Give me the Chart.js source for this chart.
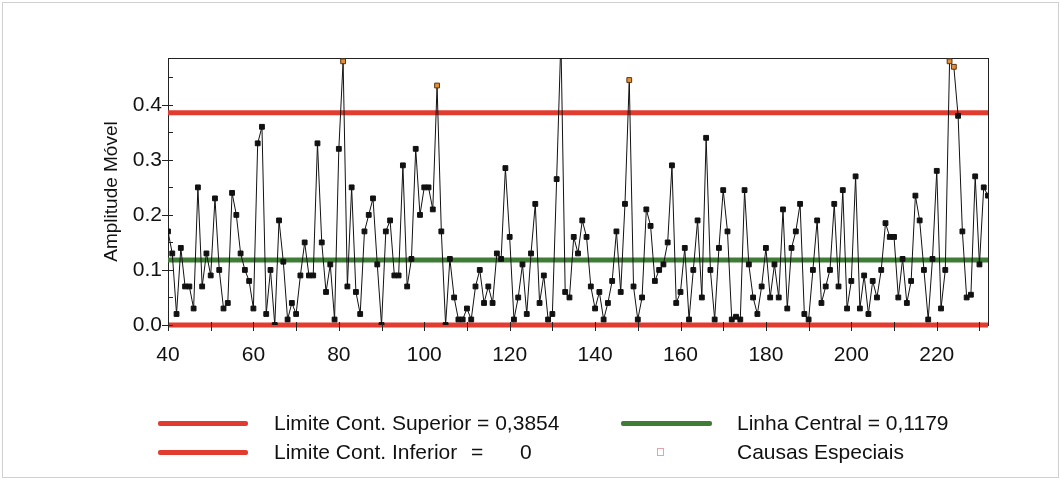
<!DOCTYPE html>
<html>
<head>
<meta charset="utf-8">
<script src="https://cdn.jsdelivr.net/npm/chart.js@4.4.1/dist/chart.umd.min.js"></script>
<style>
html,body{margin:0;padding:0;background:#fff;}
#wrap{position:relative;width:1062px;height:482px;overflow:hidden;font-family:"Liberation Sans",Arial,sans-serif;color:#111;}
#frame{position:absolute;left:2px;top:2px;width:1055px;height:474px;border:1px solid #d0d0d0;}
canvas{position:absolute;left:0;top:0;}
.lg{position:absolute;font-size:21px;line-height:24px;white-space:pre;}
.bar{position:absolute;height:5px;border-radius:2px;}
</style>
</head>
<body>
<div id="wrap">
  <div id="frame"></div>
  <canvas id="c" width="1062" height="482"></canvas>
  <div class="bar" style="left:158px;top:421px;width:90px;background:#e23b2f"></div>
  <div class="lg" style="left:274px;top:411px">Limite Cont. Superior = 0,3854</div>
  <div class="bar" style="left:621px;top:421px;width:91px;background:#3f7d37"></div>
  <div class="lg" style="left:737px;top:411px">Linha Central = 0,1179</div>
  <div class="bar" style="left:158px;top:450px;width:90px;background:#e23b2f"></div>
  <div class="lg" style="left:274px;top:440px">Limite Cont. Inferior</div>
  <div class="lg" style="left:471px;top:440px">=</div>
  <div class="lg" style="left:520px;top:440px">0</div>
  <div style="position:absolute;left:657px;top:448px;width:5px;height:6px;border:1px solid #eaa0a8;"></div>
  <div class="lg" style="left:737px;top:440px">Causas Especiais</div>
</div>
<script>
// ---- data ----
const firstSample = 40;
const movingRange = [
  0.17,0.13,0.02,0.14,0.07,0.07,0.03,0.25,0.07,0.13,
  0.09,0.23,0.10,0.03,0.04,0.24,0.20,0.13,0.10,0.08,
  0.03,0.33,0.36,0.02,0.10,0.00,0.19,0.115,0.01,0.04,
  0.02,0.09,0.15,0.09,0.09,0.33,0.15,0.06,0.11,0.01,
  0.32,0.479,0.07,0.25,0.06,0.02,0.17,0.20,0.23,0.11,
  0.00,0.17,0.19,0.09,0.09,0.29,0.07,0.12,0.32,0.20,
  0.25,0.25,0.21,0.435,0.17,0.00,0.12,0.05,0.01,0.01,
  0.03,0.01,0.07,0.10,0.04,0.07,0.04,0.13,0.12,0.285,
  0.16,0.01,0.05,0.11,0.02,0.13,0.22,0.04,0.09,0.01,
  0.02,0.265,0.52,0.06,0.05,0.16,0.13,0.19,0.16,0.07,
  0.03,0.06,0.01,0.04,0.08,0.17,0.06,0.22,0.445,0.07,
  0.01,0.05,0.21,0.18,0.08,0.10,0.11,0.15,0.29,0.04,
  0.06,0.14,0.01,0.10,0.19,0.05,0.34,0.10,0.01,0.14,
  0.245,0.17,0.01,0.015,0.01,0.245,0.11,0.05,0.02,0.07,
  0.14,0.05,0.11,0.05,0.21,0.03,0.14,0.17,0.22,0.02,
  0.01,0.10,0.19,0.04,0.07,0.10,0.22,0.07,0.245,0.03,
  0.08,0.27,0.03,0.09,0.02,0.08,0.05,0.10,0.185,0.16,
  0.16,0.05,0.12,0.04,0.08,0.235,0.19,0.10,0.01,0.12,
  0.28,0.03,0.10,0.479,0.469,0.38,0.17,0.05,0.055,0.27,
  0.11,0.25,0.235
];
const specialSamples = [81, 103, 148, 223, 224];
const ucl = 0.3854;
const centralLine = 0.1179;
const lcl = 0;
const xRange = [40, 232];
const yRange = [0, 0.485];
const xLabelStep = 20;

// ---- build ----
const points = movingRange.map((v, i) => ({x: firstSample + i, y: v}));
const isSpecial = points.map(p => specialSamples.includes(p.x));
const hline = v => [{x: xRange[0], y: v}, {x: xRange[1], y: v}];
const FONT = '"Liberation Sans", Arial, sans-serif';

const frameAndTicks = {
  id: 'frameAndTicks',
  beforeDatasetsDraw(chart) {
    const {ctx, chartArea: a} = chart;
    ctx.save();
    ctx.strokeStyle = '#222';
    ctx.lineWidth = 1;
    ctx.strokeRect(Math.round(a.left) + 0.5, Math.round(a.top) + 0.5,
                   Math.round(a.right - a.left), Math.round(a.bottom - a.top));
    ctx.restore();
  },
  afterDraw(chart) {
    const {ctx, chartArea: a, scales: {x, y}} = chart;
    ctx.save();
    ctx.strokeStyle = '#222';
    ctx.lineWidth = 1;
    ctx.beginPath();
    x.ticks.forEach(t => {
      const px = Math.round(x.getPixelForValue(t.value)) + 0.5;
      ctx.moveTo(px, a.bottom - 3); ctx.lineTo(px, a.bottom + 6);
    });
    y.ticks.forEach(t => {
      const py = Math.round(y.getPixelForValue(t.value)) + 0.5;
      const major = Math.round(t.value * 100) % 10 === 0;
      ctx.moveTo(a.left - (major ? 6 : 0), py); ctx.lineTo(a.left + 5, py);
    });
    ctx.stroke();
    ctx.restore();
  }
};

new Chart(document.getElementById('c'), {
  type: 'line',
  data: {
    datasets: [
      {
        data: points, order: 0, clip: 0,
        borderColor: '#111', borderWidth: 1, tension: 0,
        pointStyle: 'rect', pointRadius: 3.4, pointBorderWidth: 1,
        pointBackgroundColor: isSpecial.map(s => s ? '#e0913a' : '#111'),
        pointBorderColor: isSpecial.map(s => s ? '#5a3410' : '#111')
      },
      { data: hline(ucl), order: 2, clip: false, borderColor: '#e23b2f', borderWidth: 5, pointRadius: 0 },
      { data: hline(lcl), order: 2, clip: false, borderColor: '#e23b2f', borderWidth: 5, pointRadius: 0 },
      { data: hline(centralLine), order: 2, clip: false, borderColor: '#3f7d37', borderWidth: 5, pointRadius: 0 }
    ]
  },
  options: {
    responsive: false,
    animation: false,
    devicePixelRatio: 1,
    layout: {padding: {left: 96, right: 74, top: 58, bottom: 107}},
    plugins: {legend: {display: false}, tooltip: {enabled: false}},
    scales: {
      x: {
        type: 'linear', min: xRange[0], max: xRange[1],
        grid: {display: false, drawTicks: false}, border: {display: false},
        ticks: {
          stepSize: 10, includeBounds: false, autoSkip: false, maxRotation: 0,
          padding: 18, color: '#111', font: {size: 21, family: FONT},
          callback: v => (v % xLabelStep === 0 ? String(v) : '')
        },
        afterFit: s => { s.height = 50; }
      },
      y: {
        min: yRange[0], max: yRange[1],
        grid: {display: false, drawTicks: false}, border: {display: false},
        ticks: {
          stepSize: 0.05, includeBounds: false, padding: 6, color: '#111',
          font: {size: 21, family: FONT},
          callback: v => (Math.round(v * 100) % 10 === 0 ? v.toFixed(1) : '')
        },
        title: {display: true, text: 'Amplitude Móvel', color: '#111',
                font: {size: 19, family: FONT}, padding: {top: 4, bottom: 0}},
        afterFit: s => { s.width = 72; }
      }
    }
  },
  plugins: [frameAndTicks]
});
</script>
</body>
</html>
